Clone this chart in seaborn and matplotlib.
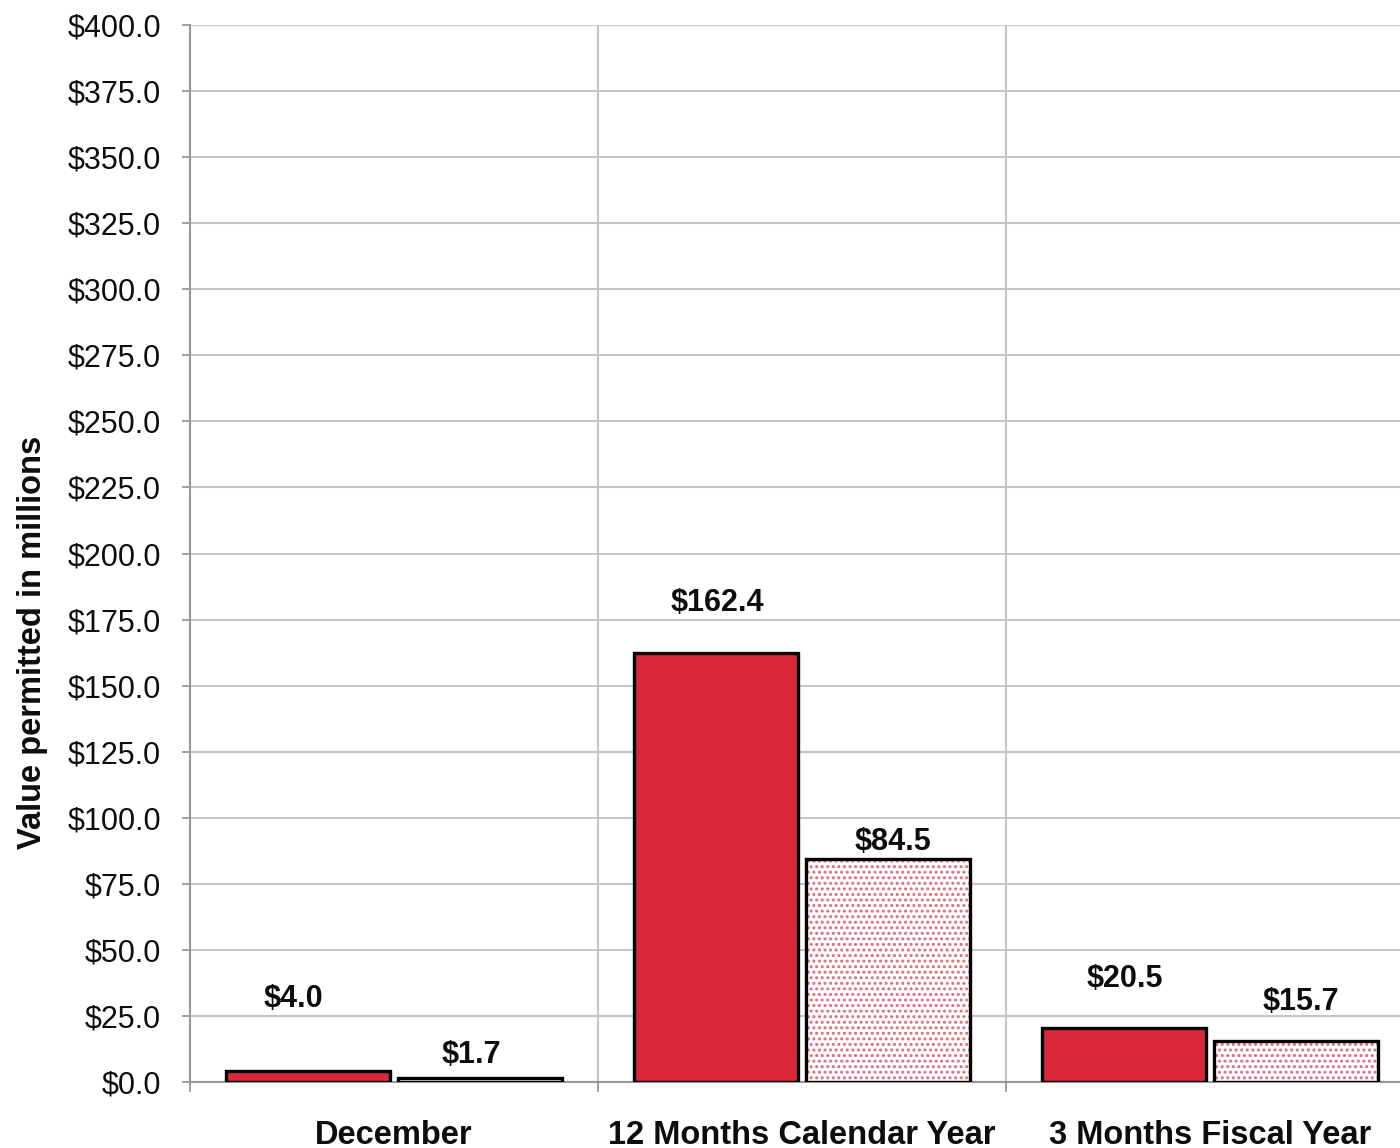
import matplotlib
matplotlib.use("Agg")
import matplotlib.pyplot as plt
import matplotlib.patches as mpatches
import seaborn as sns
import pandas as pd

# values permitted, in millions of dollars
periods = ["December", "12 Months Calendar Year", "3 Months Fiscal Year"]
current_year = [4.0, 162.4, 20.5]
prior_year = [1.7, 84.5, 15.7]
y_ticks = list(range(0, 401, 25))

# label offsets above each bar top, in points (the original labels sit unevenly)
current_offsets = [(-11, 52), (1, 36), (0, 35)]
prior_offsets = [(-6, 16), (4, 12), (4, 28)]

df = pd.DataFrame({
    "Period": periods * 2,
    "Series": ["Current"] * 3 + ["Prior"] * 3,
    "Value": current_year + prior_year,
})

sns.set_theme(style="white")
plt.rcParams["font.family"] = ["Liberation Sans", "DejaVu Sans"]
plt.rcParams["hatch.linewidth"] = 1.4

RED = "#D8283A"
DOT = "#DD6A78"
GRID = "#C6C6C6"
INK = "#0d0d0d"

fig = plt.figure(figsize=(14, 11.48), dpi=100)
ax = fig.add_axes([190 / 1400, 66 / 1148, 1224 / 1400, 1057 / 1148])

sns.barplot(data=df, x="Period", y="Value", hue="Series",
            palette={"Current": RED, "Prior": "white"}, saturation=1,
            width=0.84, gap=0.045, edgecolor="black", linewidth=2.4,
            legend=False, ax=ax, zorder=3)

# white bars get a red dotted fill with a black outline on top
for bar in ax.containers[1]:
    bar.set_hatch("...")
    bar.set_edgecolor(DOT)
    bar.set_linewidth(0)
    outline = mpatches.Rectangle(bar.get_xy(), bar.get_width(), bar.get_height(),
                                 fill=False, edgecolor="black", linewidth=2.4, zorder=4)
    ax.add_patch(outline)

# value labels
for container, offsets in zip(ax.containers, [current_offsets, prior_offsets]):
    for bar, (dx, dy) in zip(container, offsets):
        x = bar.get_x() + bar.get_width() / 2
        y = bar.get_height()
        ax.annotate(f"${y:.1f}", (x, y), xytext=(dx, dy), textcoords="offset points",
                    ha="center", va="center", fontsize=22, fontweight="bold",
                    color=INK, zorder=5)

ax.set_xlim(-0.5, 2.5)
ax.set_ylim(0, 400)
ax.set_yticks(y_ticks)
ax.set_yticklabels([f"${v:.1f}" for v in y_ticks], fontsize=22, color=INK)
ax.set_xticks(range(len(periods)))
ax.set_xticklabels(periods, fontsize=23.5, fontweight="bold", color=INK)
ax.set_xticks([-0.5, 0.5, 1.5, 2.5], minor=True)

ax.yaxis.grid(True, color=GRID, linewidth=1.5)
ax.xaxis.grid(True, which="minor", color=GRID, linewidth=1.5)
ax.set_axisbelow(True)

ax.tick_params(axis="y", which="major", direction="out", length=6, width=1.3,
               color="#999999", pad=15, left=True)
ax.tick_params(axis="x", which="major", length=0, pad=27)
ax.tick_params(axis="x", which="minor", direction="out", length=7, width=1.3,
               color="#999999", bottom=True)

for side in ["top", "right"]:
    ax.spines[side].set_visible(False)
for side in ["left", "bottom"]:
    ax.spines[side].set_color("#999999")
    ax.spines[side].set_linewidth(1.5)

ax.set_xlabel("")
ax.set_ylabel("Value permitted in millions", fontsize=23.5, fontweight="bold",
              color=INK)
ax.yaxis.set_label_coords(-0.116, 0.416)

fig.savefig("out.png", dpi=100)
